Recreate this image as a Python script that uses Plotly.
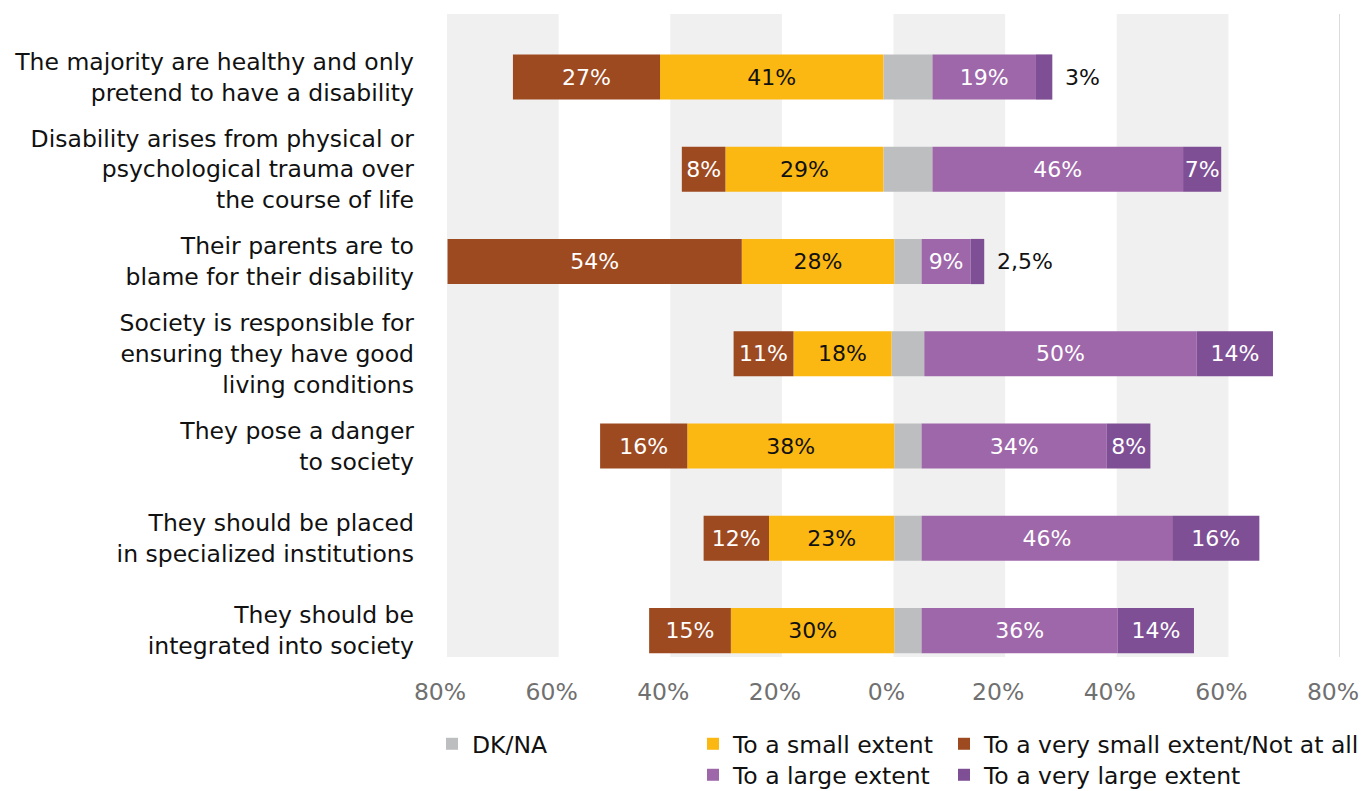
import plotly.graph_objects as go

# Survey statements (rows, top to bottom)
categories = [
    "The majority are healthy and only<br>pretend to have a disability",
    "Disability arises from physical or<br>psychological trauma over<br>the course of life",
    "Their parents are to<br>blame for their disability",
    "Society is responsible for<br>ensuring they have good<br>living conditions",
    "They pose a danger<br>to society",
    "They should be placed<br>in specialized institutions",
    "They should be<br>integrated into society",
]

# Shares of respondents, %
very_small = [27, 8, 54, 11, 16, 12, 15]     # To a very small extent/Not at all
small = [41, 29, 28, 18, 38, 23, 30]         # To a small extent
dk_na = [9, 9, 5, 6, 5, 5, 5]                # DK/NA (centred on zero)
large = [19, 46, 9, 50, 34, 46, 36]          # To a large extent
very_large = [3, 7, 2.5, 14, 8, 16, 14]      # To a very large extent

axis_ticks = [-80, -60, -40, -20, 0, 20, 40, 60, 80]
axis_tick_labels = ["80%", "60%", "40%", "20%", "0%", "20%", "40%", "60%", "80%"]

BROWN = "#9E4A21"
ORANGE = "#FBB813"
GREY = "#BDBEC0"
LIGHT_PURPLE = "#9E67A9"
DARK_PURPLE = "#7E4F94"
BAND = "#F0F0F0"
FONT = "DejaVu Sans"
LABEL_SIZE = 23.5
BAR_TEXT_SIZE = 22


def pct(v):
    return f"{v:g}%".replace(".", ",")


# Segment bases: negative answers grow leftwards from the DK/NA block,
# positive answers grow rightwards from it
half = [d / 2 for d in dk_na]
small_base = [-h for h in half]
very_small_base = [-h - s for h, s in zip(half, small)]
large_base = half
very_large_base = [h + lg for h, lg in zip(half, large)]

# Narrow end segments get their label outside the bar
outside = [v < 5 for v in very_large]

common = dict(
    orientation="h",
    width=0.49,
    textposition="inside",
    insidetextanchor="middle",
    constraintext="none",
    textangle=0,
    hoverinfo="skip",
    marker_line_width=0,
    xaxis="x",
    yaxis="y",
)


def bar_font(color):
    return dict(color=color, size=BAR_TEXT_SIZE, family=FONT)


fig = go.Figure()
fig.add_bar(y=categories, x=dk_na, base=[-h for h in half], marker_color=GREY,
            name="DK/NA", legend="legend", **common)
fig.add_bar(y=categories, x=[-v for v in small], base=small_base,
            marker_color=ORANGE, text=[pct(v) for v in small],
            textfont=bar_font("#111111"),
            name="To a small extent", legend="legend2", **common)
fig.add_bar(y=categories, x=[-v for v in very_small], base=very_small_base,
            marker_color=BROWN, text=[pct(v) for v in very_small],
            textfont=bar_font("#FFFFFF"),
            name="To a very small extent/Not at all", legend="legend3", **common)
fig.add_bar(y=categories, x=large, base=large_base,
            marker_color=LIGHT_PURPLE, text=[pct(v) for v in large],
            textfont=bar_font("#FFFFFF"),
            name="To a large extent", legend="legend4", **common)
fig.add_bar(y=categories, x=very_large, base=very_large_base,
            marker_color=DARK_PURPLE,
            text=["" if o else pct(v) for v, o in zip(very_large, outside)],
            textfont=bar_font("#FFFFFF"),
            name="To a very large extent", legend="legend5", **common)

# Anchor trace for the labelled percentage axis
fig.add_scatter(x=[None], y=[None], xaxis="x2", yaxis="y",
                showlegend=False, hoverinfo="skip")

# Labels placed just past the end of narrow bars
annotations = []
for cat, b, vl, o in zip(categories, very_large_base, very_large, outside):
    if o:
        annotations.append(dict(
            x=b + vl, y=cat, xref="x", yref="y",
            text=pct(vl), showarrow=False, xanchor="left", xshift=11,
            font=bar_font("#111111"),
        ))

# Alternating background bands and closing rule
shapes = []
for i in range(0, len(axis_ticks) - 1, 2):
    shapes.append(dict(type="rect", xref="x2", yref="paper",
                       x0=axis_ticks[i], x1=axis_ticks[i + 1], y0=0, y1=1,
                       fillcolor=BAND, line_width=0, layer="below"))
shapes.append(dict(type="line", xref="x2", yref="paper",
                   x0=axis_ticks[-1], x1=axis_ticks[-1], y0=0, y1=1,
                   line=dict(color="#CFCFCF", width=1.5), layer="below"))

PLOT_L, PLOT_R, PLOT_T, PLOT_B = 447, 1340, 14, 657
W, H = 1366, 791


def px_x(px):
    return (px - PLOT_L) / (PLOT_R - PLOT_L)


def px_y(py):
    return (PLOT_B - py) / (PLOT_B - PLOT_T)


def legend_at(px, py):
    return dict(orientation="h", x=px_x(px), y=px_y(py), xanchor="left",
                yanchor="middle", bgcolor="rgba(0,0,0,0)", borderwidth=0,
                font=dict(size=LABEL_SIZE, color="#111111", family=FONT))


fig.update_layout(
    width=W, height=H,
    margin=dict(l=PLOT_L, r=W - PLOT_R, t=PLOT_T, b=H - PLOT_B, pad=0,
                autoexpand=False),
    barmode="overlay",
    plot_bgcolor="white", paper_bgcolor="white",
    font=dict(family=FONT, size=LABEL_SIZE, color="#111111"),
    xaxis=dict(range=[-84.6, 79.3], visible=False, fixedrange=True),
    xaxis2=dict(range=[axis_ticks[0], axis_ticks[-1]], overlaying="x",
                side="bottom", anchor="y", tickmode="array",
                tickvals=axis_ticks, ticktext=axis_tick_labels,
                showgrid=False, zeroline=False, showline=False, ticks="",
                tickfont=dict(size=LABEL_SIZE, color="#707070", family=FONT),
                ticklabelstandoff=18, ticklabelshift=-7,
                ticklabeloverflow="allow", fixedrange=True),
    yaxis=dict(categoryorder="array", categoryarray=categories,
               range=[6.287, -0.683], showgrid=False, zeroline=False,
               showline=False, ticks="", ticklabelstandoff=32,
               tickfont=dict(size=LABEL_SIZE, color="#111111", family=FONT),
               fixedrange=True),
    shapes=shapes,
    annotations=annotations,
    legend=legend_at(432, 744),
    legend2=legend_at(693, 744),
    legend3=legend_at(944, 744),
    legend4=legend_at(693, 775),
    legend5=legend_at(944, 775),
)

fig.write_html("out.html")
